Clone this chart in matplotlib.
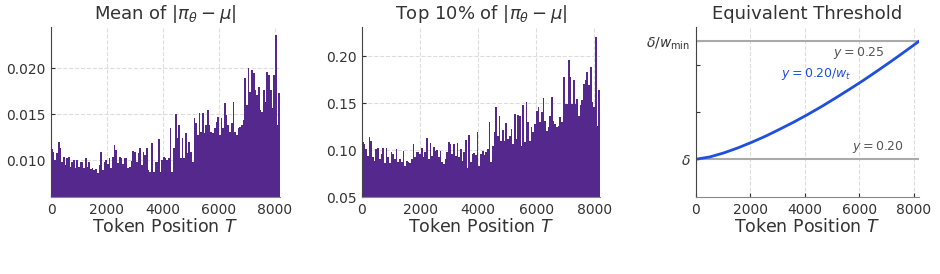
import numpy as np
import matplotlib
matplotlib.use("Agg")
import matplotlib.pyplot as plt

# values, left to right over 0..8192 tokens
mean_dev = [
    0.01123, 0.01094, 0.01004, 0.01076, 0.01196, 0.01130, 0.00986, 0.01040, 0.00949, 0.01022,
    0.01040, 0.00931, 0.00986, 0.01004, 0.00913, 0.01004, 0.00931, 0.00986, 0.00986, 0.00913,
    0.01022, 0.00931, 0.00978, 0.00906, 0.00920, 0.00895, 0.00906, 0.00859, 0.00949, 0.01094,
    0.00895, 0.00986, 0.01004, 0.00957, 0.01022, 0.00913, 0.01040, 0.01167, 0.01112, 0.00967,
    0.01040, 0.01022, 0.00957, 0.01022,
    0.01022, 0.00913, 0.00931, 0.00993, 0.01101, 0.01087, 0.00986, 0.01076, 0.01130, 0.00949,
    0.01094, 0.01058, 0.01138, 0.00895, 0.00877, 0.01185, 0.00877, 0.00978, 0.00986, 0.01232,
    0.00877, 0.01004, 0.01040, 0.01022, 0.01004, 0.01022, 0.01348, 0.00877, 0.01138, 0.01500,
    0.01239, 0.01384, 0.01022, 0.01246, 0.01022, 0.01293, 0.01076, 0.01196, 0.01094, 0.00986,
    0.01457, 0.01402, 0.01275, 0.01511, 0.01312,
    0.01511, 0.01293, 0.01384, 0.01547, 0.01384, 0.01312, 0.01293, 0.01348, 0.01420, 0.01475,
    0.01275, 0.01457, 0.01348, 0.01620, 0.01493, 0.01384, 0.01312, 0.01402, 0.01638, 0.01312,
    0.01275, 0.01348, 0.01366, 0.01384, 0.01438, 0.01891, 0.01601, 0.02000, 0.01746, 0.01982,
    0.01946, 0.01764, 0.01710, 0.01801, 0.01547, 0.01529, 0.01764, 0.01638, 0.01964, 0.01928,
    0.01764, 0.01565, 0.01928, 0.02362, 0.01384, 0.01728,
]

top10_dev = [
    0.1082, 0.1064, 0.1011, 0.0939, 0.1143, 0.1100, 0.0921, 0.0886, 0.1011, 0.1018,
    0.0904, 0.0957, 0.1018, 0.0861, 0.1018, 0.0921, 0.0861, 0.0975, 0.0957, 0.0904,
    0.1011, 0.0875, 0.0904, 0.0868, 0.0993, 0.0832, 0.0886, 0.0875, 0.0861, 0.0904,
    0.1064, 0.0921, 0.0982, 0.0975, 0.0957, 0.1018, 0.0921, 0.0975, 0.1125, 0.0904,
    0.1075, 0.0939, 0.1029, 0.0993, 0.1004, 0.0921,
    0.0993, 0.0868, 0.0850, 0.0904, 0.0975, 0.1082, 0.1064, 0.0957, 0.1064, 0.0932,
    0.1075, 0.0921, 0.1011, 0.0886, 0.0975, 0.1111, 0.0814, 0.1161, 0.0868, 0.0957,
    0.0968, 0.0946, 0.1189, 0.0832, 0.0957, 0.0993, 0.0946, 0.0982, 0.1011, 0.1296,
    0.0868, 0.1046, 0.1196, 0.1457, 0.1154, 0.1368, 0.1100, 0.1218, 0.1100, 0.1289,
    0.1118, 0.1154, 0.1225, 0.1064, 0.1386, 0.1118, 0.1375,
    0.1368, 0.1046, 0.1475, 0.1082, 0.1511, 0.1296, 0.1100, 0.1243, 0.1189, 0.1279,
    0.1421, 0.1457, 0.1296, 0.1404, 0.1554, 0.1314, 0.1207, 0.1243, 0.1368, 0.1564,
    0.1314, 0.1279, 0.1243, 0.1261, 0.1350, 0.1296, 0.1779, 0.1493, 0.1493, 0.1957,
    0.1779, 0.1493, 0.1743, 0.1493, 0.1546, 0.1368, 0.1475, 0.1529, 0.1707, 0.1743,
    0.1832, 0.1689, 0.1886, 0.1511, 0.1457, 0.2207, 0.1261, 0.1636,
]

# equivalent threshold curve, read every 512 tokens
thr_T = [0, 512, 1024, 1536, 2048, 2560, 3072, 3584, 4096,
         4608, 5120, 5632, 6144, 6656, 7168, 7680, 8192]
thr_y = [0.2000, 0.2010, 0.2027, 0.2048, 0.2072, 0.2098, 0.2127, 0.2157, 0.2189,
         0.2223, 0.2259, 0.2296, 0.2334, 0.2374, 0.2415, 0.2457, 0.2500]

T_MAX = 8192
delta = 0.20
delta_wmin = 0.25

BAR_COLOR = "#54288c"
LINE_COLOR = "#1f4fe0"
TEXT_COLOR = "#333333"

plt.rcParams.update({
    "font.family": "DejaVu Sans",
    "mathtext.fontset": "dejavusans",
    "text.color": TEXT_COLOR,
    "axes.labelcolor": TEXT_COLOR,
    "xtick.color": TEXT_COLOR,
    "ytick.color": TEXT_COLOR,
})


def style_axes(ax, ygrid=True):
    for side in ["top", "right"]:
        ax.spines[side].set_visible(False)
    ax.spines["left"].set_color("#444444")
    ax.spines["bottom"].set_color("#888888")
    ax.tick_params(direction="in", length=3, labelsize=10, pad=4)
    ax.grid(True, axis="x", linestyle="--", color="#dddddd", linewidth=0.8)
    if ygrid:
        ax.grid(True, axis="y", linestyle="--", color="#dddddd", linewidth=0.8)
    ax.set_axisbelow(True)
    ax.set_xlim(0, T_MAX)
    ax.set_xticks([0, 2000, 4000, 6000, 8000])
    ax.set_xlabel("Token Position $T$", fontsize=12.5, labelpad=1)


def draw_bars(ax, values):
    width = T_MAX / len(values)
    x = np.arange(len(values)) * width
    ax.bar(x, values, width=width, align="edge", color=BAR_COLOR,
           edgecolor="none", linewidth=0)


fig = plt.figure(figsize=(9.4, 2.74), dpi=100)
ax1 = fig.add_axes([0.0543, 0.281, 0.2436, 0.620])
ax2 = fig.add_axes([0.3851, 0.281, 0.2532, 0.620])
ax3 = fig.add_axes([0.7404, 0.281, 0.2372, 0.620])

# panel 1
draw_bars(ax1, mean_dev)
style_axes(ax1)
ax1.set_ylim(0.0060, 0.0245)
ax1.set_yticks([0.010, 0.015, 0.020])
ax1.set_yticklabels(["0.010", "0.015", "0.020"])
ax1.set_title(r"Mean of $|\pi_\theta - \mu|$", fontsize=13, pad=6)

# panel 2
draw_bars(ax2, top10_dev)
style_axes(ax2)
ax2.set_ylim(0.05, 0.231)
ax2.set_yticks([0.05, 0.10, 0.15, 0.20])
ax2.set_yticklabels(["0.05", "0.10", "0.15", "0.20"])
ax2.set_title(r"Top 10% of $|\pi_\theta - \mu|$", fontsize=13, pad=6)

# panel 3
style_axes(ax3, ygrid=False)
ax3.axhline(delta, color="#aaaaaa", linewidth=1.5)
ax3.axhline(delta_wmin, color="#aaaaaa", linewidth=1.5)
ax3.plot(thr_T, thr_y, color=LINE_COLOR, linewidth=2)
ax3.set_ylim(0.184, 0.256)
ax3.set_yticks([0.20, 0.22, 0.24, 0.25])
ax3.set_yticklabels([r"$\delta$", "", "", r"$\delta/w_{\min}$"])
ax3.text(5970, 0.2452, r"$y = 0.25$", color="#555555", fontsize=9,
         ha="center", va="center")
ax3.text(6690, 0.2054, r"$y = 0.20$", color="#555555", fontsize=9,
         ha="center", va="center")
ax3.text(4400, 0.2363, r"$y=0.20/w_t$", color=LINE_COLOR, fontsize=9,
         ha="center", va="center")
ax3.set_title("Equivalent Threshold", fontsize=13, pad=6)

fig.savefig("out.png", dpi=100)
